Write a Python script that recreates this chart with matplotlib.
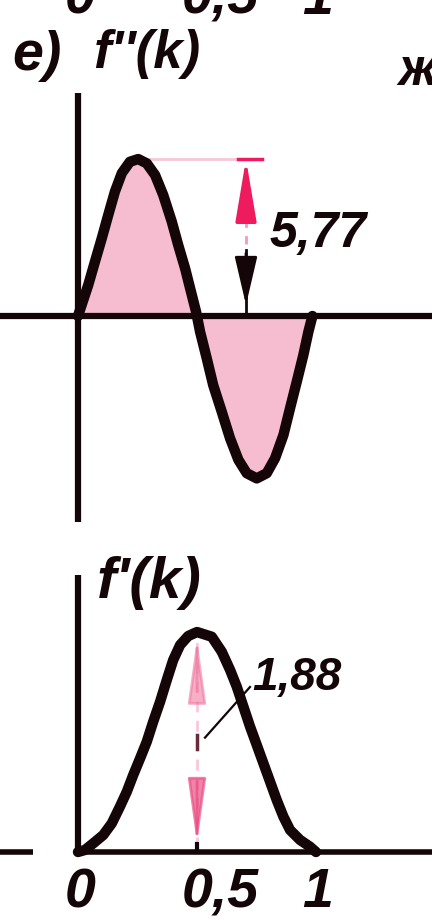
import matplotlib
matplotlib.use("Agg")
import matplotlib.pyplot as plt
from matplotlib.font_manager import fontManager, FontProperties

# f''(k): second derivative of the smoothing step, sampled along k
k2 = [0, 0.043, 0.071, 0.100, 0.127, 0.155, 0.184, 0.218, 0.253, 0.289,
      0.324, 0.358, 0.394, 0.421, 0.450, 0.471, 0.496, 0.513, 0.541, 0.568,
      0.604, 0.639, 0.674, 0.709, 0.751, 0.793, 0.828, 0.863, 0.891, 0.919,
      0.947, 0.968, 0.985]
f2 = [0, 1.14, 1.99, 2.86, 3.71, 4.57, 5.25, 5.67, 5.77, 5.61,
      5.18, 4.45, 3.47, 2.61, 1.75, 1.02, 0.16, -0.58, -1.56, -2.54,
      -3.52, -4.50, -5.29, -5.78, -5.97, -5.78, -5.23, -4.38, -3.39, -2.42,
      -1.43, -0.58, 0]

# f'(k): first derivative, bell shaped
k1 = [0, 0.029, 0.064, 0.106, 0.142, 0.176, 0.205, 0.232, 0.261, 0.289,
      0.316, 0.345, 0.373, 0.400, 0.429, 0.463, 0.5, 0.562, 0.604, 0.639,
      0.667, 0.695, 0.723, 0.751, 0.779, 0.807, 0.835, 0.863, 0.891, 0.933,
      0.975, 1.0]
f1 = [0, 0.017, 0.074, 0.145, 0.245, 0.387, 0.515, 0.658, 0.801, 0.943,
      1.114, 1.285, 1.470, 1.641, 1.769, 1.846, 1.88, 1.840, 1.712, 1.556,
      1.413, 1.242, 1.071, 0.915, 0.758, 0.601, 0.444, 0.302, 0.188, 0.103,
      0.045, 0]

tick_vals = [0, 0.5, 1]
tick_text = ["0", "0,5", "1"]
peak2_text = "5,77"
peak1_text = "1,88"


def _bold(w):
    if isinstance(w, str):
        return "bold" in w or "black" in w or "heavy" in w
    return w >= 600


def hand_face():
    """Bold italic face for the handwritten-looking labels."""
    for name in ("Liberation Sans", "DejaVu Sans"):
        for f in fontManager.ttflist:
            if (f.name == name and f.style in ("italic", "oblique")
                    and _bold(f.weight) and str(f.stretch) == "normal"):
                return FontProperties(fname=f.fname)
    return FontProperties(family="DejaVu Sans", weight="bold", style="italic")


FACE = hand_face()
INK = "#140608"
PINK = "#f6bcd0"
RED = "#ee1c5e"
W, H = 432, 923

fig = plt.figure(figsize=(W / 100, H / 100), dpi=100)
fig.patch.set_facecolor("white")

# pixel layout: k -> x pixel
X0, XS = 78, 238


def kx(px):
    return (px - X0) / XS


def handtext(x, y, s, size, **kw):
    fp = FACE.copy()
    fp.set_size(size)
    fig.text(x / W, 1 - y / H, s, fontproperties=fp, color=INK,
             va="baseline", **kw)


# ---------------- upper panel: f''(k) ----------------
Y0T, YST = 316, 27.2
top = 545
axT = fig.add_axes([0, 1 - top / H, 1, top / H])
axT.set_xlim(kx(0), kx(W))
axT.set_ylim((Y0T - top) / YST, Y0T / YST)
axT.axis("off")


def vT(py):
    return (Y0T - py) / YST


axT.fill_between(k2, f2, 0, color=PINK, lw=0, zorder=1)
axT.plot([kx(0), kx(W)], [0, 0], color=INK, lw=4.5, solid_capstyle="butt", zorder=3)
axT.plot([0, 0], [vT(522), vT(93)], color=INK, lw=4.5, solid_capstyle="butt", zorder=3)
axT.plot(k2, f2, color=INK, lw=7.5, solid_joinstyle="round",
         solid_capstyle="round", zorder=4)

# dimension arrow for the maximum of f''
pk = max(f2)
kpk = k2[f2.index(pk)]
xa = kx(246)
axT.plot([kpk, kx(238)], [pk, pk], color="#f4c9d6", lw=2, zorder=2)
axT.plot([kx(238), kx(262)], [pk, pk], color=RED, lw=2.5, zorder=5)
axT.annotate("", xy=(xa, pk), xytext=(xa, 0.62 * pk),
             arrowprops=dict(arrowstyle="-|>,head_length=1.9,head_width=0.32",
                             color=RED, lw=2.5, mutation_scale=20,
                             shrinkA=0, shrinkB=0), zorder=5)
axT.plot([xa, xa], [0.62 * pk, 0.42 * pk], color="#f29ab8", lw=2,
         ls=(0, (3, 3)), zorder=2)
axT.plot([xa, xa], [0.42 * pk, 0], color=INK, lw=2, zorder=5)
axT.annotate("", xy=(xa, 0.07 * pk), xytext=(xa, 0.40 * pk),
             arrowprops=dict(arrowstyle="-|>,head_length=1.5,head_width=0.35",
                             color=INK, lw=2, mutation_scale=20,
                             shrinkA=0, shrinkB=0), zorder=5)
handtext(270, 247, peak2_text, 36)

# labels of the panel
handtext(12, 70, "е)", 40)
handtext(93, 68, "f''(k)", 38)
handtext(398, 85, "ж)", 38)
# tick labels of the panel above, cut by the page edge
for v, t in zip(tick_vals, tick_text):
    if t == "0,5":
        handtext(X0 + XS * v - 15, 14, t, 40, ha="left")
    else:
        handtext(X0 + XS * v + 2, 14, t, 40, ha="center")

# ---------------- lower panel: f'(k) ----------------
Y0B, YSB = 852, 117.0
axB = fig.add_axes([0, 0, 1, (H - top) / H])
axB.set_xlim(kx(0), kx(W))
axB.set_ylim((Y0B - H) / YSB, (Y0B - top) / YSB)
axB.axis("off")


def vB(py):
    return (Y0B - py) / YSB


axB.plot([kx(0), kx(33)], [0, 0], color=INK, lw=4, solid_capstyle="butt", zorder=3)
axB.plot([kx(75), kx(W)], [0, 0], color=INK, lw=4, solid_capstyle="butt", zorder=3)
axB.plot([0, 0], [0, vB(575)], color=INK, lw=4.5, solid_capstyle="butt", zorder=3)
axB.plot([0.5, 0.5], [0, 0.07], color=INK, lw=3, zorder=3)
axB.plot(k1, f1, color=INK, lw=7.5, solid_joinstyle="round",
         solid_capstyle="round", zorder=4)

# pale double arrow marking the maximum of f'
pk1 = max(f1)
kp1 = k1[f1.index(pk1)]
axB.plot([kp1, kp1], [0.03, pk1], color="#f7b3c9", lw=2, ls=(0, (4, 3)),
         alpha=0.7, zorder=2)
axB.annotate("", xy=(kp1, pk1 - 0.05), xytext=(kp1, 0.73 * pk1),
             arrowprops=dict(arrowstyle="-|>,head_length=2.0,head_width=0.28",
                             color="#f07aa2", lw=2, mutation_scale=20, alpha=0.6,
                             shrinkA=0, shrinkB=0), zorder=2)
axB.annotate("", xy=(kp1, 0.07), xytext=(kp1, 0.32 * pk1),
             arrowprops=dict(arrowstyle="-|>,head_length=2.0,head_width=0.28",
                             color="#ea4f84", lw=2, mutation_scale=20, alpha=0.7,
                             shrinkA=0, shrinkB=0), zorder=2)
axB.plot([kp1, kp1], [0.47 * pk1, 0.53 * pk1], color="#6a2a3a", lw=2.5, zorder=3)
axB.plot([kx(205), kx(250)], [0.52 * pk1, vB(687)], color=INK, lw=1.6, zorder=5)
handtext(252, 690, peak1_text, 33)

handtext(97, 598, "f'(k)", 42)
for v, t in zip(tick_vals, tick_text):
    if t == "0,5":
        handtext(X0 + XS * v - 15, 907, t, 40, ha="left")
    else:
        handtext(X0 + XS * v + 2, 907, t, 40, ha="center")

fig.savefig("out.png", dpi=100, facecolor="white")
